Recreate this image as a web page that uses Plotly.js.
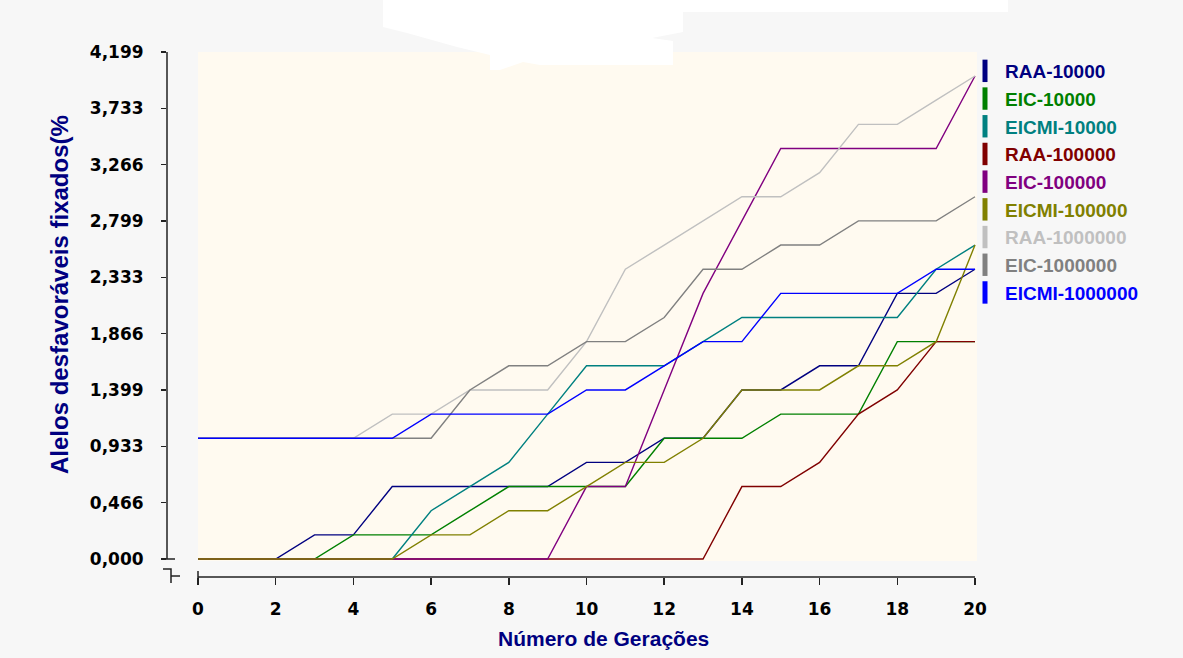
<!DOCTYPE html>
<html>
<head>
<meta charset="utf-8">
<script src="https://cdn.plot.ly/plotly-3.0.1.min.js"></script>
<style>
  html, body { margin: 0; padding: 0; background: #F7F7F7; }
  #chart { width: 1183px; height: 658px; }
</style>
</head>
<body>
<div id="chart"></div>
<script>
// Generations on the x axis
const generations = [0, 1, 2, 3, 4, 5, 6, 7, 8, 9, 10, 11, 12, 13, 14, 15, 16, 17, 18, 19, 20];

// Fixed unfavourable alleles (%) per generation, one array per scenario
const raa10000     = [0, 0, 0, 0.2, 0.2, 0.6, 0.6, 0.6, 0.6, 0.6, 0.8, 0.8, 1.0, 1.0, 1.4, 1.4, 1.6, 1.6, 2.2, 2.2, 2.4];
const eic10000     = [0, 0, 0, 0, 0.2, 0.2, 0.2, 0.4, 0.6, 0.6, 0.6, 0.6, 1.0, 1.0, 1.0, 1.2, 1.2, 1.2, 1.8, 1.8, 1.8];
const eicmi10000   = [0, 0, 0, 0, 0, 0, 0.4, 0.6, 0.8, 1.2, 1.6, 1.6, 1.6, 1.8, 2.0, 2.0, 2.0, 2.0, 2.0, 2.4, 2.6];
const raa100000    = [0, 0, 0, 0, 0, 0, 0, 0, 0, 0, 0, 0, 0, 0, 0.6, 0.6, 0.8, 1.2, 1.4, 1.8, 1.8];
const eic100000    = [0, 0, 0, 0, 0, 0, 0, 0, 0, 0, 0.6, 0.6, 1.4, 2.2, 2.8, 3.4, 3.4, 3.4, 3.4, 3.4, 4.0];
const eicmi100000  = [0, 0, 0, 0, 0, 0, 0.2, 0.2, 0.4, 0.4, 0.6, 0.8, 0.8, 1.0, 1.4, 1.4, 1.4, 1.6, 1.6, 1.8, 2.6];
const raa1000000   = [1.0, 1.0, 1.0, 1.0, 1.0, 1.2, 1.2, 1.4, 1.4, 1.4, 1.8, 2.4, 2.6, 2.8, 3.0, 3.0, 3.2, 3.6, 3.6, 3.8, 4.0];
const eic1000000   = [1.0, 1.0, 1.0, 1.0, 1.0, 1.0, 1.0, 1.4, 1.6, 1.6, 1.8, 1.8, 2.0, 2.4, 2.4, 2.6, 2.6, 2.8, 2.8, 2.8, 3.0];
const eicmi1000000 = [1.0, 1.0, 1.0, 1.0, 1.0, 1.0, 1.2, 1.2, 1.2, 1.2, 1.4, 1.4, 1.6, 1.8, 1.8, 2.2, 2.2, 2.2, 2.2, 2.4, 2.4];

const seriesNames  = ['RAA-10000', 'EIC-10000', 'EICMI-10000', 'RAA-100000', 'EIC-100000',
                      'EICMI-100000', 'RAA-1000000', 'EIC-1000000', 'EICMI-1000000'];
const seriesValues = [raa10000, eic10000, eicmi10000, raa100000, eic100000,
                      eicmi100000, raa1000000, eic1000000, eicmi1000000];
const seriesColors = ['#000080', '#008000', '#008080', '#800000', '#800080',
                      '#808000', '#C0C0C0', '#808080', '#0000FF'];

// Axis ticks
const xTickVals = [0, 2, 4, 6, 8, 10, 12, 14, 16, 18, 20];
const yTickVals = [0, 0.466, 0.933, 1.399, 1.866, 2.333, 2.799, 3.266, 3.733, 4.199];

const xTitle = 'Número de Gerações';
const yTitle = 'Alelos desfavoráveis fixados(%';

// ---- geometry of the drawing area (pixels) ----
const W = 1183, H = 658;
const M = { l: 167, r: 206, t: 52, b: 81 };
const PW = W - M.l - M.r, PH = H - M.t - M.b;
const X0PX = 198, X20PX = 975;          // where generation 0 and 20 sit
const Y0PX = 559;                        // where 0 % sits
const xScale = (X20PX - X0PX) / 20;
const yTop = yTickVals[yTickVals.length - 1];
const yScale = (Y0PX - M.t) / yTop;
const xRange = [-(X0PX - M.l) / xScale, 20 + (M.l + PW - X20PX) / xScale];
const yRange = [-(M.t + PH - Y0PX) / yScale, yTop];

const px = v => (v - M.l) / PW;           // pixel -> paper x
const py = v => 1 - (v - M.t) / PH;       // pixel -> paper y
const pathFrom = pts => 'M' + pts.map(p => px(p[0]).toFixed(5) + ',' + py(p[1]).toFixed(5)).join(' L') + ' Z';
const openPath = pts => 'M' + pts.map(p => px(p[0]).toFixed(5) + ',' + py(p[1]).toFixed(5)).join(' L');

// ---- traces ----
const traces = [];
seriesValues.forEach((vals, i) => {
  traces.push({
    x: generations, y: vals, type: 'scatter', mode: 'lines',
    name: seriesNames[i], showlegend: false, hoverinfo: 'x+y+name',
    line: { color: seriesColors[i], width: 1.4 }
  });
});
// legend entries drawn as short vertical bars with coloured labels
seriesNames.forEach((n, i) => {
  traces.push({
    x: [null], y: [null], type: 'scatter', mode: 'markers',
    name: '<span style="color:' + seriesColors[i] + '">' + n + '</span>',
    showlegend: true, hoverinfo: 'skip',
    marker: { symbol: 'line-ns', size: 16, color: seriesColors[i],
              line: { width: 6, color: seriesColors[i] } }
  });
});

const axisColor = '#222222';
const tickFont = { family: 'DejaVu Sans, sans-serif', size: 17, color: '#000000', weight: 'bold' };

const layout = {
  width: W, height: H,
  margin: M,
  paper_bgcolor: '#F7F7F7',
  plot_bgcolor: '#F7F7F7',
  separators: ',.',
  showlegend: true,
  xaxis: {
    range: xRange, tickvals: xTickVals, tickformat: 'd',
    ticks: 'outside', ticklen: 7, tickwidth: 1.5, tickcolor: axisColor,
    ticklabelstandoff: 10,
    showgrid: false, zeroline: false, showline: false,
    tickfont: tickFont, fixedrange: true
  },
  yaxis: {
    range: yRange, tickvals: yTickVals, tickformat: '.3f',
    ticks: 'outside', ticklen: 5, tickwidth: 1.5, tickcolor: axisColor,
    ticklabelstandoff: 14,
    showgrid: false, zeroline: false, showline: false,
    tickfont: tickFont, fixedrange: true
  },
  legend: {
    x: px(965), xanchor: 'left', y: 1, yanchor: 'top',
    bgcolor: 'rgba(0,0,0,0)', borderwidth: 0,
    font: { family: 'Liberation Sans, Arial, sans-serif', size: 19, weight: 'bold' },
    itemwidth: 30, tracegroupgap: 0
  },
  annotations: [
    { text: xTitle, xref: 'paper', yref: 'paper', x: px(603), y: py(638),
      xanchor: 'center', yanchor: 'middle', showarrow: false,
      font: { family: 'Liberation Sans, Arial, sans-serif', size: 21, color: '#000080', weight: 'bold' } },
    { text: yTitle, xref: 'paper', yref: 'paper', x: px(59), y: py(295),
      xanchor: 'center', yanchor: 'middle', showarrow: false, textangle: -90,
      font: { family: 'Liberation Sans, Arial, sans-serif', size: 24, color: '#000080', weight: 'bold' } }
  ],
  shapes: [
    // cream plotting field
    { type: 'rect', layer: 'below', xref: 'x', yref: 'y',
      x0: 0, x1: xRange[1], y0: -2 / yScale, y1: yTop,
      fillcolor: '#FFFAF0', line: { width: 0 } },
    // detached y axis line with its end cap
    { type: 'line', xref: 'paper', yref: 'y', x0: 0, x1: 0, y0: 0, y1: yTop,
      line: { color: axisColor, width: 1.5 } },
    { type: 'line', xref: 'paper', yref: 'y', x0: px(162), x1: px(175), y0: 0, y1: 0,
      line: { color: axisColor, width: 1.5 } },
    // axis break mark
    { type: 'path', xref: 'paper', yref: 'paper',
      path: openPath([[163, 569], [171, 569], [171, 583]]),
      line: { color: axisColor, width: 1.5 } },
    { type: 'path', xref: 'paper', yref: 'paper',
      path: openPath([[171, 576], [180, 576]]),
      line: { color: axisColor, width: 1.5 } },
    // detached x axis line with its start tick
    { type: 'line', xref: 'x', yref: 'paper', x0: 0, x1: 20, y0: 0, y1: 0,
      line: { color: axisColor, width: 1.5 } },
    { type: 'line', xref: 'x', yref: 'paper', x0: 0, x1: 0, y0: py(571), y1: py(585),
      line: { color: axisColor, width: 1.5 } },
    // white patch along the top edge
    { type: 'path', layer: 'above', xref: 'paper', yref: 'paper',
      path: pathFrom([[383, 0], [1008, 0], [1008, 12], [683, 12], [683, 32], [652, 38],
                      [673, 41], [673, 65], [540, 65], [523, 62], [500, 70], [490, 70],
                      [490, 55], [457, 47], [407, 33], [383, 27]]),
      fillcolor: '#FFFFFF', line: { width: 0 } }
  ]
};

Plotly.newPlot('chart', traces, layout, { staticPlot: true, displayModeBar: false });
</script>
</body>
</html>
